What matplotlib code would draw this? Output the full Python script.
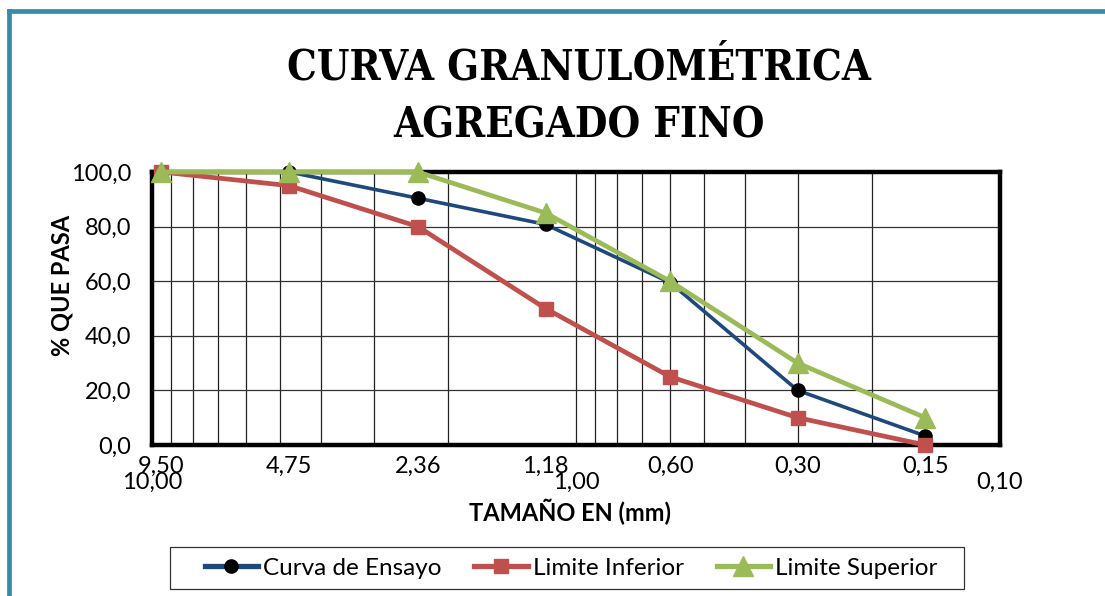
import matplotlib
matplotlib.use('Agg')
import matplotlib.pyplot as plt
from matplotlib import font_manager as fm
from matplotlib.lines import Line2D
from matplotlib.patches import Rectangle
from matplotlib.ticker import FixedLocator, NullFormatter, FuncFormatter

# abertura de tamices (mm) y % que pasa
tamiz = [9.50, 4.75, 2.36, 1.18, 0.60, 0.30, 0.15]
tamiz_txt = ['9,50', '4,75', '2,36', '1,18', '0,60', '0,30', '0,15']
curva_ensayo = [100.0, 100.0, 90.4, 80.8, 59.5, 20.0, 3.3]
limite_inferior = [100.0, 95.0, 80.0, 50.0, 25.0, 10.0, 0.0]
limite_superior = [100.0, 100.0, 100.0, 85.0, 60.0, 30.0, 10.0]

y_ticks = [0, 20, 40, 60, 80, 100]
x_major = [10.0, 1.0, 0.1]

plt.rcParams['font.family'] = ['Lato', 'DejaVu Sans']

W, H = 1105, 596
fig = plt.figure(figsize=(W/100, H/100), dpi=100)

# marco exterior (solo borde izq. y superior quedan a la vista)
frame = dict(color='#368DA6', lw=3.4, solid_capstyle='projecting')
fig.add_artist(Line2D([8.5/W, 8.5/W], [-0.05, 1 - 11/H], **frame))
fig.add_artist(Line2D([8.5/W, 1.05], [1 - 11/H, 1 - 11/H], **frame))

# titulo en serif condensada
title_font = fm.FontProperties(family='DejaVu Serif', weight='bold',
                               stretch='condensed', size=30)
fig.text(579/W, 1 - 67/H, 'CURVA GRANULOMÉTRICA', ha='center', va='center',
         fontproperties=title_font)
fig.text(579/W, 1 - 125/H, 'AGREGADO FINO', ha='center', va='center',
         fontproperties=title_font)

ax = fig.add_axes([152/W, 1 - 445/H, 848/W, 273/H])
ax.set_xscale('log')
ax.set_xlim(10, 0.1)
ax.set_ylim(0, 100)

# grilla logaritmica
ax.xaxis.set_major_locator(FixedLocator(x_major))
ax.xaxis.set_minor_locator(FixedLocator([m*d for d in (0.1, 1.0) for m in range(2, 10)]))
ax.xaxis.set_major_formatter(FuncFormatter(lambda v, p: f'{v:.2f}'.replace('.', ',')))
ax.xaxis.set_minor_formatter(NullFormatter())
ax.yaxis.set_major_locator(FixedLocator(y_ticks))
ax.yaxis.set_major_formatter(FuncFormatter(lambda v, p: f'{v:.1f}'.replace('.', ',')))
ax.grid(which='both', axis='x', color='#222222', lw=0.9)
ax.grid(which='major', axis='y', color='#333333', lw=0.9)
ax.tick_params(which='both', length=0, labelsize=17)
ax.tick_params(axis='x', pad=19)
ax.tick_params(axis='y', pad=15)
for sp in ax.spines.values():
    sp.set_linewidth(3.2)

ax.plot(tamiz, curva_ensayo, color='#1F497D', lw=2.6, marker='o', ms=9.5,
        mfc='black', mec='black', label='Curva de Ensayo', zorder=3, clip_on=False)
ax.plot(tamiz, limite_inferior, color='#C0504D', lw=3.4, marker='s', ms=10,
        label='Limite Inferior', zorder=4, clip_on=False)
ax.plot(tamiz, limite_superior, color='#9BBB59', lw=3.4, marker='^', ms=14,
        label='Limite Superior', zorder=5, clip_on=False)

# etiquetas de los tamices
for s, t in zip(tamiz, tamiz_txt):
    ax.annotate(t, xy=(s, 0), xycoords=('data', 'axes fraction'), xytext=(0, -8),
                textcoords='offset points', ha='center', va='top', fontsize=17)

ax.set_ylabel('% QUE PASA', fontsize=17, fontweight='bold')
ax.yaxis.set_label_coords(-0.092, 0.586)
ax.set_xlabel('TAMAÑO EN (mm)', fontsize=17, fontweight='bold', va='center')
ax.xaxis.set_label_coords(0.493, -0.245)

# leyenda con recuadro propio
fig.add_artist(Rectangle((170/W, 1 - 589/H), 794/W, 42/H, transform=fig.transFigure,
                         fill=False, ec='#333333', lw=0.9))
leg = fig.legend(loc='center', bbox_to_anchor=(571/W, 1 - 568/H), ncol=3, fontsize=17.5,
                 frameon=False, handlelength=2.2, handletextpad=0.2, columnspacing=1.35,
                 borderpad=0.2)
for h in leg.legend_handles:
    h.set_linewidth(3.8)

fig.savefig('out.png', dpi=100)
